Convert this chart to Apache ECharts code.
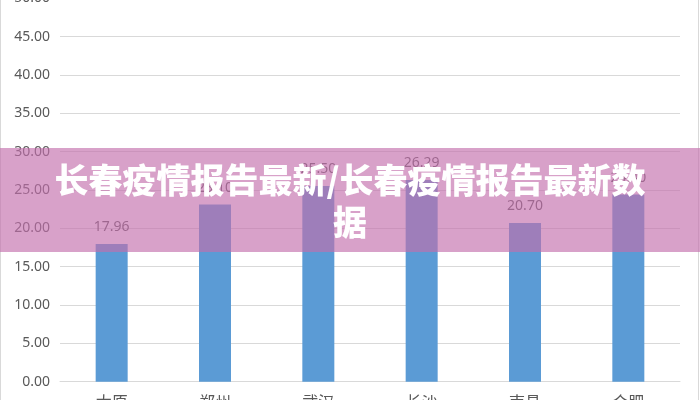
<!DOCTYPE html>
<html>
<head>
<meta charset="utf-8">
<script src="https://cdn.jsdelivr.net/npm/echarts@6/dist/echarts.min.js"></script>
<style>
html,body{margin:0;padding:0;background:#fff;}
#c{width:700px;height:400px;}
</style>
</head>
<body>
<div id="c"></div>
<script>
const categories = ['太原', '郑州', '武汉', '长沙', '南昌', '合肥'];
const values = [17.96, 23.10, 25.50, 26.29, 20.70, 24.40];
const yTicks = { min: 0, max: 50, interval: 5 };
const titleLines = ['长春疫情报告最新/长春疫情报告最新数', '据'];

const chart = echarts.init(document.getElementById('c'));
chart.setOption({
  animation: false,
  backgroundColor: '#ffffff',
  grid: { left: 60, right: 20, top: -1.8, bottom: 18.3, containLabel: false, outerBoundsMode: 'none' },
  xAxis: {
    type: 'category',
    data: categories,
    axisLine: { lineStyle: { color: '#D9D9D9', width: 1 } },
    axisTick: { show: false },
    axisLabel: { color: '#595959', fontSize: 16, margin: 12, fontFamily: 'Noto Sans CJK SC' }
  },
  yAxis: {
    type: 'value',
    min: yTicks.min, max: yTicks.max, interval: yTicks.interval,
    axisLine: { show: false },
    axisTick: { show: false },
    splitLine: { lineStyle: { color: '#D9D9D9', width: 1 } },
    axisLabel: {
      color: '#595959', fontSize: 14, margin: 10, fontFamily: 'Noto Sans',
      formatter: v => v.toFixed(2)
    }
  },
  series: [{
    type: 'bar',
    data: values,
    barWidth: 32,
    itemStyle: { color: '#5B9BD5' },
    label: {
      show: true, position: 'top', distance: 10,
      color: '#595959', fontSize: 14, fontFamily: 'Noto Sans',
      formatter: p => p.value.toFixed(2)
    }
  }],
  graphic: [
    { type: 'rect', z: 100, silent: true,
      shape: { x: 0.5, y: -5, width: 698, height: 410 },
      style: { fill: 'none', stroke: '#D9D9D9', lineWidth: 1 } },
    { type: 'rect', z: 101, silent: true,
      shape: { x: 0, y: 148, width: 700, height: 104 },
      style: { fill: 'rgba(195,110,172,0.65)' } },
    { type: 'text', z: 102, silent: true, x: 350, y: 180,
      style: { text: titleLines[0], fill: '#ffffff', font: '900 34px "Noto Sans CJK SC"',
        align: 'center', verticalAlign: 'middle' } },
    { type: 'text', z: 102, silent: true, x: 350, y: 222,
      style: { text: titleLines[1], fill: '#ffffff', font: '900 34px "Noto Sans CJK SC"',
        align: 'center', verticalAlign: 'middle' } }
  ]
});
</script>
</body>
</html>
